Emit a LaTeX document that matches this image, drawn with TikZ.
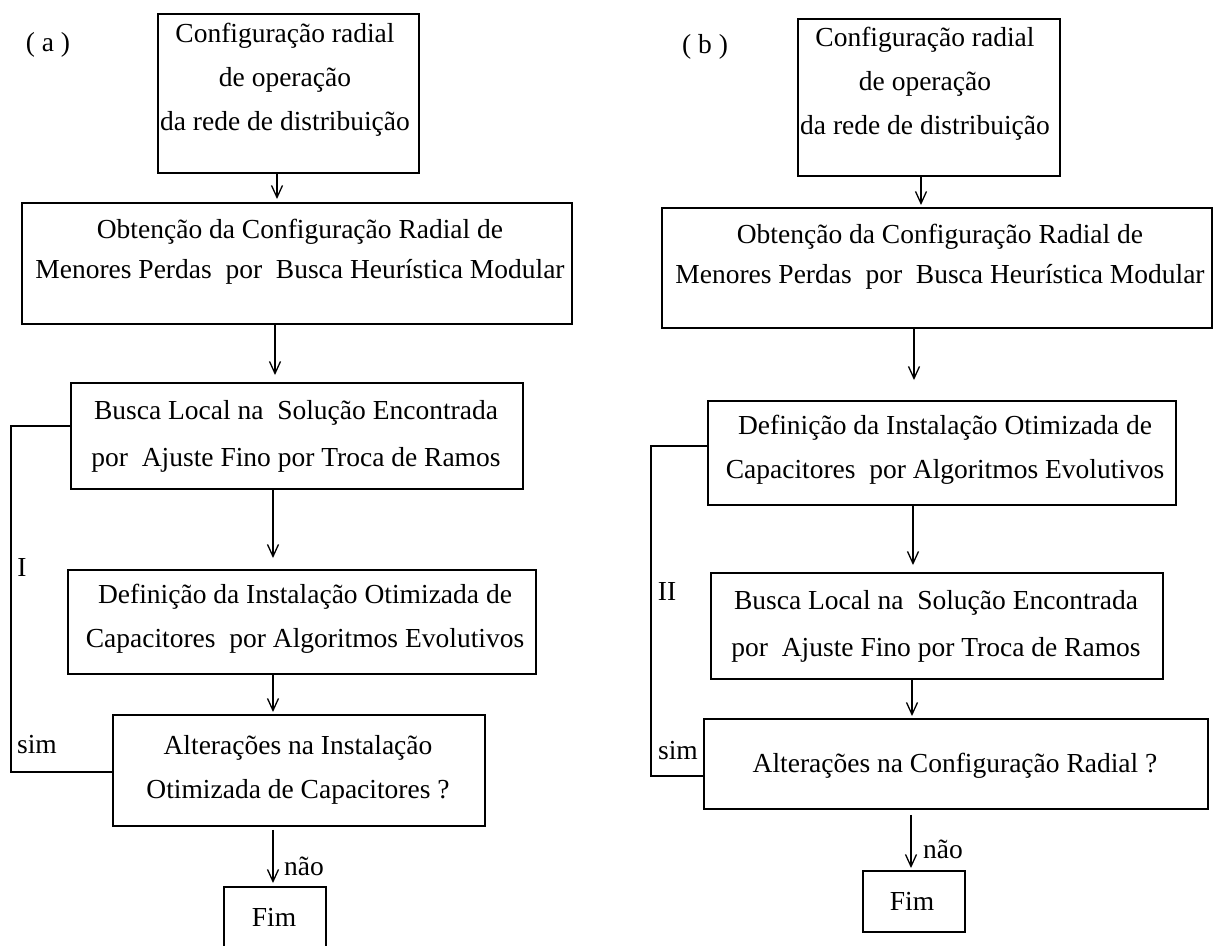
\documentclass[tikz,border=0pt]{standalone}
\usepackage{fontspec}
\setmainfont{Liberation Serif}
\usetikzlibrary{arrows.meta,calc}
\begin{document}
\begin{tikzpicture}[x=1pt,y=-1pt,
  box/.style={draw,line width=1.8pt,rectangle,inner sep=0pt,anchor=north west},
  txt/.style={font=\fontsize{27.5}{44}\selectfont,align=center,inner sep=0pt},
  lbl/.style={font=\fontsize{27.5}{33}\selectfont,inner sep=0pt},
  arr/.style={line width=1.8pt,-{Straight Barb[length=12pt,width=11pt,line width=1.3pt]}},
  fb/.style={line width=1.8pt}]
\clip (0,0) rectangle (1215,945);
\fill[white] (0,0) rectangle (1215,945);
% ---------- (a) ----------
\node[lbl] (la) at (48,45) {( a )};
\node[box,minimum width=261,minimum height=159] (a1) at (157,13) {};
\node[txt] (ta1) at (285,80) {Configuração radial\\de operação\\da rede de distribuição};
\node[box,minimum width=550,minimum height=121] (a2) at (21,202) {};
\node[txt,font=\fontsize{27.5}{40}\selectfont] (ta2) at (300,252) {Obtenção da Configuração Radial de\\Menores Perdas\ \ por\ \ Busca Heurística Modular};
\node[box,minimum width=452,minimum height=106] (a3) at (70,382) {};
\node[txt,font=\fontsize{27.5}{47}\selectfont] (ta3) at (296,436) {Busca Local na\ \ Solução Encontrada\\por\ \ Ajuste Fino por Troca de Ramos};
\node[box,minimum width=468,minimum height=104] (a4) at (67,569) {};
\node[txt] (ta4) at (305,619) {Definição da Instalação Otimizada de\\Capacitores\ \ por Algoritmos Evolutivos};
\node[box,minimum width=372,minimum height=111] (a5) at (112,714) {};
\node[txt] (ta5) at (298,770) {Alterações na Instalação\\Otimizada de Capacitores ?};
\node[box,minimum width=102,minimum height=61] (af) at (223,886) {};
\node[txt] (taf) at (274,917) {Fim};
\node[lbl] (li) at (22,567) {I};
\node[lbl] (lsa) at (37,745) {sim};
\node[lbl] (lna) at (304,866) {não};
\coordinate (xa1) at (277,0);
\coordinate (xa2) at (275,0);
\coordinate (xa3) at (273,0);
\draw[arr,shorten >=3pt] (a1.south -| xa1) -- (a2.north -| xa1);
\draw[arr,shorten >=7pt] (a2.south -| xa2) -- (a3.north -| xa2);
\draw[arr,shorten >=11pt] (a3.south -| xa3) -- (a4.north -| xa3);
\draw[arr,shorten >=2pt] (a4.south -| xa3) -- (a5.north -| xa3);
\draw[arr,shorten <=3pt,shorten >=3pt] (a5.south -| xa3) -- (af.north -| xa3);
\draw[fb] ([yshift=-1.5pt]a5.west) -- ++(-101,0) |- ([yshift=10pt]a3.west);
% ---------- (b) ----------
\node[lbl] (lb) at (705,47) {( b )};
\node[box,minimum width=262,minimum height=157] (b1) at (797,18) {};
\node[txt] (tb1) at (925,84) {Configuração radial\\de operação\\da rede de distribuição};
\node[box,minimum width=550,minimum height=120] (b2) at (661,207) {};
\node[txt,font=\fontsize{27.5}{40}\selectfont] (tb2) at (940,257) {Obtenção da Configuração Radial de\\Menores Perdas\ \ por\ \ Busca Heurística Modular};
\node[box,minimum width=468,minimum height=104] (b3) at (707,400) {};
\node[txt] (tb3) at (945,450) {Definição da Instalação Otimizada de\\Capacitores\ \ por Algoritmos Evolutivos};
\node[box,minimum width=452,minimum height=106] (b4) at (710,572) {};
\node[txt,font=\fontsize{27.5}{47}\selectfont] (tb4) at (936,626) {Busca Local na\ \ Solução Encontrada\\por\ \ Ajuste Fino por Troca de Ramos};
\node[box,minimum width=504,minimum height=90] (b5) at (703,718) {};
\node[txt] (tb5) at (955,766) {Alterações na Configuração Radial ?};
\node[box,minimum width=102,minimum height=61] (bf) at (862,870) {};
\node[txt] (tbf) at (912,901) {Fim};
\node[lbl] (lii) at (667,591) {II};
\node[lbl] (lsb) at (678,751) {sim};
\node[lbl] (lnb) at (943,849) {não};
\coordinate (xb1) at (921,0);
\coordinate (xb2) at (914,0);
\coordinate (xb3) at (913,0);
\coordinate (xb4) at (912,0);
\coordinate (xb5) at (911,0);
\draw[arr,shorten >=2pt] (b1.south -| xb1) -- (b2.north -| xb1);
\draw[arr,shorten >=20pt] (b2.south -| xb2) -- (b3.north -| xb2);
\draw[arr,shorten >=7pt] (b3.south -| xb3) -- (b4.north -| xb3);
\draw[arr,shorten >=2pt] (b4.south -| xb4) -- (b5.north -| xb4);
\draw[arr,shorten <=5pt,shorten >=2pt] (b5.south -| xb5) -- (bf.north -| xb5);
\draw[fb] ([yshift=-12pt]b5.west) -- ++(-52,0) |- ([yshift=7pt]b3.west);
\end{tikzpicture}
\end{document}
